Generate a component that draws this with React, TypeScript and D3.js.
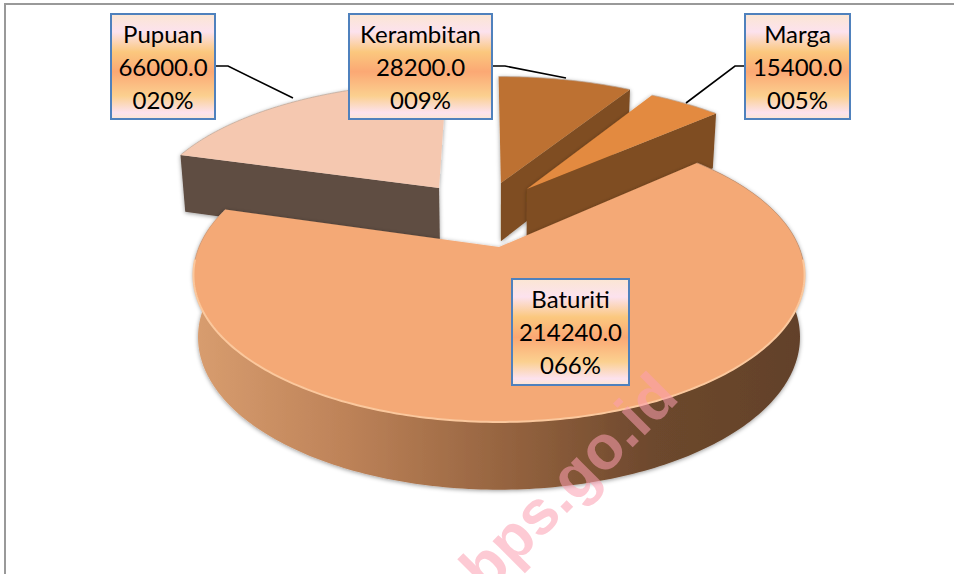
import React from "react";
import * as d3 from "d3";

const categories = ["Baturiti", "Pupuan", "Kerambitan", "Marga"];
const values = [214240, 66000, 28200, 15400];
const faceColors = ["#f4a976", "#f5c8b0", "#bd7130", "#e38a3f"];
const sideColors = ["url(#sideGrad)", "#5f4d42", "#7f4e24", "#7f4e24"];

// label boxes: [x, y, w, h]
const boxes: Record<string, number[]> = {
  Baturiti: [512, 279, 117, 106],
  Pupuan: [111, 14, 104, 105],
  Kerambitan: [349, 14, 143, 105],
  Marga: [745, 14, 105, 105],
};
const leaders: Record<string, number[][]> = {
  Pupuan: [[215, 66], [228, 66], [293, 98]],
  Kerambitan: [[492, 66], [505, 66], [566, 78]],
  Marga: [[745, 66], [735, 66], [686, 103]],
};
// explosion offset and radius factor of each slice on the pie's plane
const explode = [[0, 0], [-0.217, -0.452], [0.007, -0.494], [0.101, -0.444]];
const radiusK = [1, 1.035, 1.065, 1.05];

const CX = 499, CY = 247, A = 300, B = 141.7, P = 0.19, D = 61, Q = 0.1;
const project = (u: number, v: number, low = false) => {
  const w = 1 - P * v;
  const x = (A * u) / w;
  const y = (B * v) / w;
  return low
    ? [CX + x * 0.985, CY + y + D / (1 - Q * v)]
    : [CX + x, CY + y];
};

const toRad = (deg: number) => (deg * Math.PI) / 180;
const pieGen = d3.pie<number>().sort(null).startAngle(toRad(48)).endAngle(toRad(408));
const arcs = pieGen(values);
const line = d3.line();
const total = d3.sum(values);
const pctFmt = d3.format("03.0f");

const rim = (a0: number, a1: number, off: number[], k: number, low = false) => {
  const n = Math.max(8, Math.round(Math.abs(a1 - a0) * 60));
  return d3.range(n + 1).map((i) => {
    const t = a0 + ((a1 - a0) * i) / n;
    return project(off[0] + k * Math.sin(t), off[1] - k * Math.cos(t), low) as [number, number];
  });
};

const gradStops: [string, string][] = [
  ["0%", "#fbe6d3"], ["17%", "#fce2ee"], ["36%", "#fbc87e"], ["55%", "#fba874"],
  ["78%", "#fbd08f"], ["94%", "#fce2ee"], ["100%", "#fbe6d3"],
];

export default function App() {
  const order = [1, 2, 3, 0];
  return (
    <svg width={954} height={574} viewBox="0 0 954 574"
      style={{ position: "absolute", left: 0, top: 0, display: "block", background: "#fff" }}>
      <defs>
        <linearGradient id="sideGrad" gradientUnits="userSpaceOnUse" x1={195} x2={805} y1={0} y2={0}>
          <stop offset="0%" stopColor="#d89d6f" />
          <stop offset="25%" stopColor="#bd8258" />
          <stop offset="55%" stopColor="#8f5f3c" />
          <stop offset="75%" stopColor="#6d482d" />
          <stop offset="100%" stopColor="#624129" />
        </linearGradient>
        <linearGradient id="boxGrad" x1={0} x2={0} y1={0} y2={1}>
          {gradStops.map(([o, c]) => <stop key={o} offset={o} stopColor={c} />)}
        </linearGradient>
        <filter id="shadow" x="-10%" y="-10%" width="120%" height="120%">
          <feDropShadow dx={0} dy={1} stdDeviation={2} floodColor="#000" floodOpacity={0.4} />
        </filter>
      </defs>
      <path d="M5,574V4H954" fill="none" stroke="#999" strokeWidth={2} />
      {order.map((i) => {
        const a = arcs[i];
        const off = explode[i];
        const k = radiusK[i];
        const top = rim(a.startAngle, a.endAngle, off, k);
        const apex = project(off[0], off[1]) as [number, number];
        const apexLow = project(off[0], off[1], true) as [number, number];
        const edge = (t: number) =>
          project(off[0] + k * Math.sin(t), off[1] - k * Math.cos(t), true) as [number, number];
        const s = [
          ...(i === 0 ? [[...top, ...rim(a.endAngle, a.startAngle, off, k, true)]] : []),
          i === 1
            ? [top[0], apex, apexLow, edge(a.startAngle)]
            : i > 1
              ? [top[top.length - 1], apex, apexLow, edge(a.endAngle)]
              : [],
        ].filter((p) => p.length);
        return (
          <g key={categories[i]}>
            <g filter="url(#shadow)">
              {s.map((p, n) => (
                <path key={n} d={line(p as [number, number][]) + "Z"} fill={sideColors[i]} />
              ))}
              <path d={line([apex, ...top]) + "Z"} fill={faceColors[i]} />
            </g>
            <path d={line(top) ?? ""} fill="none"
              stroke={i === 0 ? "#c79a7c" : "#b9a597"} strokeWidth={1} strokeOpacity={0.7} />
            {i === 0 && (
              <path d={line(rim(toRad(95), toRad(265), off, k)) ?? ""} fill="none" stroke="#fbc89d" strokeWidth={2} />
            )}
          </g>
        );
      })}
      {categories.filter((c) => leaders[c]).map((c) => (
        <path key={c} d={line(leaders[c] as [number, number][]) ?? ""} fill="none" stroke="#000" strokeWidth={1.6} />
      ))}
      <text transform="translate(486,594) rotate(-45)" fontFamily="'Liberation Sans', Arial, sans-serif"
        fontWeight={700} fontSize={62} fill="#fb9fb1" fillOpacity={0.55}>bps.go.id</text>
      {categories.map((c, i) => {
        const [x, y, w, h] = boxes[c];
        const lines = [c, values[i].toFixed(1), `${pctFmt((values[i] / total) * 100)}%`];
        return (
          <g key={c}>
            <rect x={x} y={y} width={w} height={h} fill="url(#boxGrad)" stroke="#4f81bd" strokeWidth={2} />
            {lines.map((t, n) => (
              <text key={n} x={x + w / 2} y={y + 29 + n * 33} textAnchor="middle"
                fontFamily="Lato, sans-serif" fontSize={24} fill="#000">{t}</text>
            ))}
          </g>
        );
      })}
    </svg>
  );
}
